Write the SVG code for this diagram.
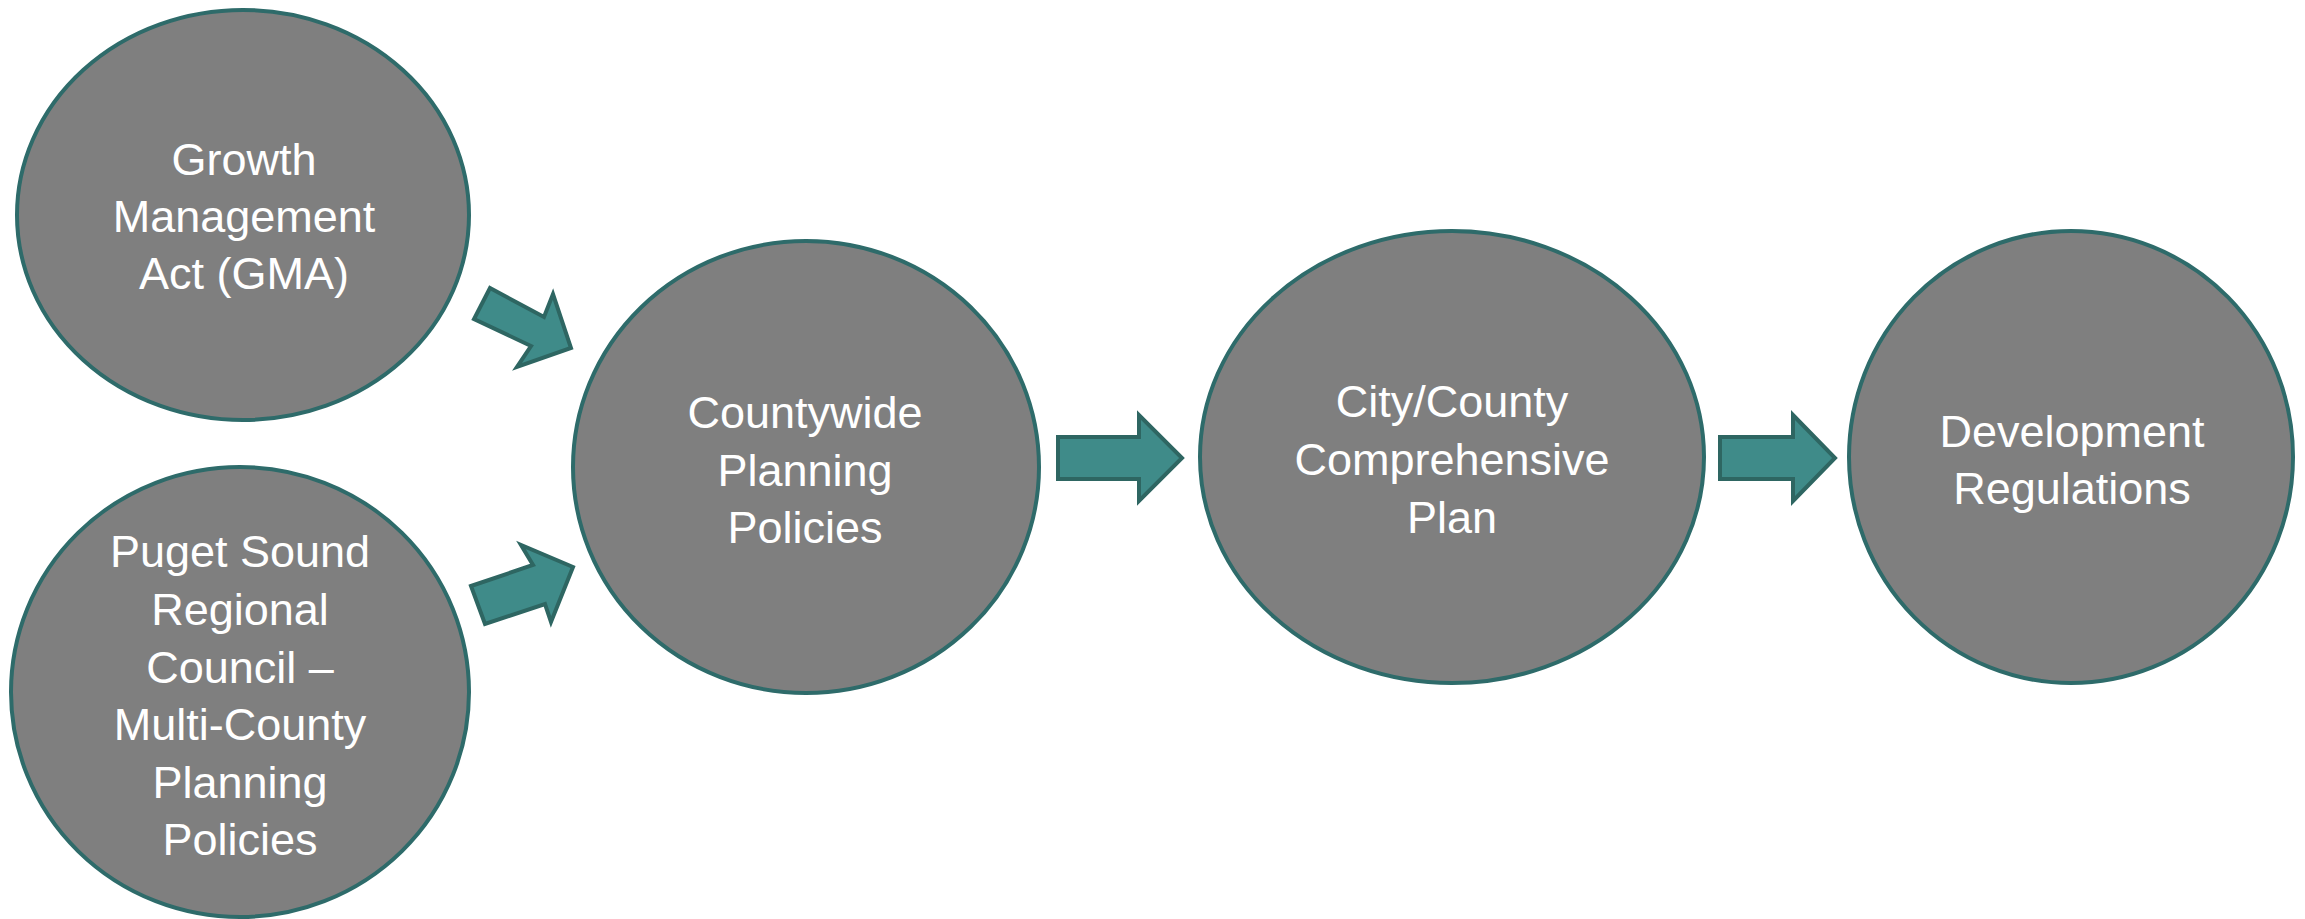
<svg xmlns="http://www.w3.org/2000/svg" width="2305" height="919" viewBox="0 0 2305 919">
<style>
.node ellipse{fill:#7f7f7f;stroke:#2e6b6a;stroke-width:4}
.node text{font-family:"Liberation Sans",Arial,sans-serif;font-size:45px;fill:#ffffff;text-anchor:middle}
.arrow{fill:#3f8b89;stroke:#2e6662;stroke-width:4;stroke-linejoin:miter}
</style>
<rect width="2305" height="919" fill="#ffffff"/>
<g id="connectors">
<polygon class="arrow" points="490,288 544,317 553,294 571,348 517,367 531,346 474,319"/>
<polygon class="arrow" points="471,586 533,565 521,545 573,567 551,622 545,604 485,624"/>
<polygon class="arrow" points="1058,437 1139,437 1139,415 1182,458 1139,501 1139,479 1058,479"/>
<polygon class="arrow" points="1720,437 1793,437 1793,415 1835,458 1793,501 1793,479 1720,479"/>
</g>
<g id="gma" class="node">
<ellipse cx="243" cy="215" rx="226" ry="205"/>
<text x="244" y="175">Growth</text>
<text x="244" y="232">Management</text>
<text x="244" y="289">Act (GMA)</text>
</g>
<g id="psrc" class="node">
<ellipse cx="240" cy="692" rx="229" ry="225"/>
<text x="240" y="567">Puget Sound</text>
<text x="240" y="625">Regional</text>
<text x="240" y="683">Council –</text>
<text x="240" y="740">Multi-County</text>
<text x="240" y="798">Planning</text>
<text x="240" y="855">Policies</text>
</g>
<g id="countywide" class="node">
<ellipse cx="806" cy="467" rx="233" ry="226"/>
<text x="805" y="428">Countywide</text>
<text x="805" y="486">Planning</text>
<text x="805" y="543">Policies</text>
</g>
<g id="comprehensive" class="node">
<ellipse cx="1452" cy="457" rx="252" ry="226"/>
<text x="1452" y="417">City/County</text>
<text x="1452" y="475">Comprehensive</text>
<text x="1452" y="533">Plan</text>
</g>
<g id="regulations" class="node">
<ellipse cx="2071" cy="457" rx="222" ry="226"/>
<text x="2072" y="447">Development</text>
<text x="2072" y="504">Regulations</text>
</g>
</svg>
